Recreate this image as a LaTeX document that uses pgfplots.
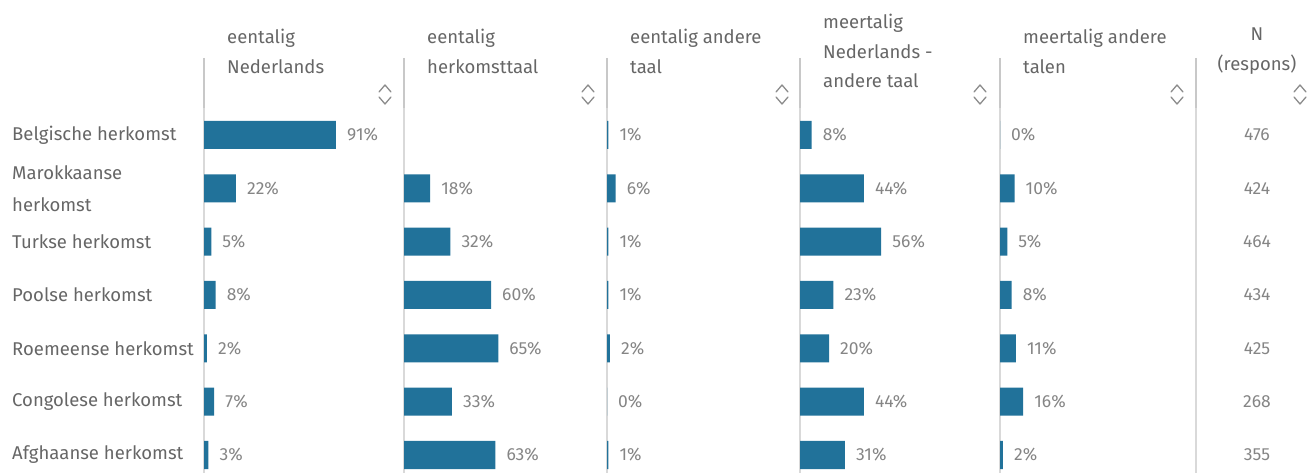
\documentclass[border=0pt]{standalone}
\usepackage{pgfplots}
\pgfplotsset{compat=1.18}
\usepackage{fontspec}
\setmainfont{Fira Sans}
\definecolor{barc}{HTML}{21729A}
\definecolor{lab}{HTML}{666666}
\definecolor{pct}{HTML}{858585}
\definecolor{sep}{HTML}{D9D9D9}
\definecolor{hsep}{HTML}{C8C8C8}
\definecolor{chev}{HTML}{8C8C8C}

\pgfplotsset{
 col/.style={
  scale only axis, width=145pt, height=364.7pt,
  xmin=0, xmax=100, ymin=-0.5, ymax=6.3375, y dir=reverse,
  axis x line=none, axis y line=left,
  axis line style={draw=sep, line width=1.2pt, -},
  ytick=\empty, xtick=\empty, clip=false,
  major tick length=0pt,
  bar width=28pt,
  /pgf/number format/assume math mode=true,
  title style={at={(0,1)}, anchor=west, xshift=23pt, yshift=51pt, align=left,
    font=\fontsize{18.5}{29.5}\selectfont, text=lab, inner sep=0pt},
  nodes near coords={\pgfmathprintnumber{\pgfplotspointmeta}\%},
  every node near coord/.style={anchor=west, xshift=11pt, inner sep=0pt,
    font=\fontsize{17.5}{20}\selectfont, text=pct},
 },
 bars/.style={xbar, fill=barc, draw=none, point meta=x},
}

\begin{document}
\begin{tikzpicture}[x=1pt,y=1pt]
\useasboundingbox (0,0) rectangle (1309,473);

% column 1
\begin{axis}[col, at={(204pt,0pt)}, anchor=south west,
  title={eentalig\\Nederlands},
  ytick={0,...,6},
  yticklabels={Belgische herkomst,{Marokkaanse\\herkomst},Turkse herkomst,Poolse herkomst,Roemeense herkomst,Congolese herkomst,Afghaanse herkomst},
  yticklabel style={anchor=west, xshift=-192pt, inner sep=0pt, align=left,
    font=\fontsize{18.5}{32}\selectfont, text=lab}]
\addplot[bars] coordinates {(91,0) (22,1) (5,2) (8,3) (2,4) (7,5) (3,6)};
\end{axis}

% column 2
\begin{axis}[col, at={(404pt,0pt)}, anchor=south west,
  title={eentalig\\herkomsttaal}]
\addplot[bars] coordinates {(18,1) (32,2) (60,3) (65,4) (33,5) (63,6)};
\end{axis}

% column 3
\begin{axis}[col, at={(607pt,0pt)}, anchor=south west,
  title={eentalig andere\\taal}]
\addplot[bars] coordinates {(1,0) (6,1) (1,2) (1,3) (2,4) (0,5) (1,6)};
\end{axis}

% column 4
\begin{axis}[col, at={(800pt,0pt)}, anchor=south west,
  title={meertalig\\Nederlands -\\andere taal}]
\addplot[bars] coordinates {(8,0) (44,1) (56,2) (23,3) (20,4) (44,5) (31,6)};
\end{axis}

% column 5
\begin{axis}[col, at={(1000pt,0pt)}, anchor=south west,
  title={meertalig andere\\talen}]
\addplot[bars] coordinates {(0,0) (10,1) (5,2) (8,3) (11,4) (16,5) (2,6)};
\end{axis}

% N column
\begin{axis}[col, at={(1196pt,0pt)}, anchor=south west, width=122pt, xmin=0, xmax=1,
  title={N\\(respons)},
  title style={at={(0.5,1)}, anchor=center, xshift=-23pt, align=center}]
\addplot[draw=none, mark=none, point meta=explicit symbolic,
  nodes near coords={\pgfplotspointmeta},
  every node near coord/.style={anchor=center, inner sep=0pt, font=\fontsize{17.5}{20}\selectfont, text=pct}]
  coordinates {(0.5,0) [476] (0.5,1) [424] (0.5,2) [464] (0.5,3) [434] (0.5,4) [425] (0.5,5) [268] (0.5,6) [355]};
\end{axis}

% header separators
\foreach \xx in {204,404,607,800,1000,1196}
  \draw[hsep, line width=1.5pt] (\xx,415) -- (\xx,365);
% sort chevrons
\foreach \xx in {385,588,782,980,1177,1300} {
  \draw[chev, line width=1.3pt, line cap=round, line join=round]
    (\xx-6,381) -- (\xx,388) -- (\xx+6,381);
  \draw[chev, line width=1.3pt, line cap=round, line join=round]
    (\xx-6,376) -- (\xx,369) -- (\xx+6,376);
}
\end{tikzpicture}
\end{document}
